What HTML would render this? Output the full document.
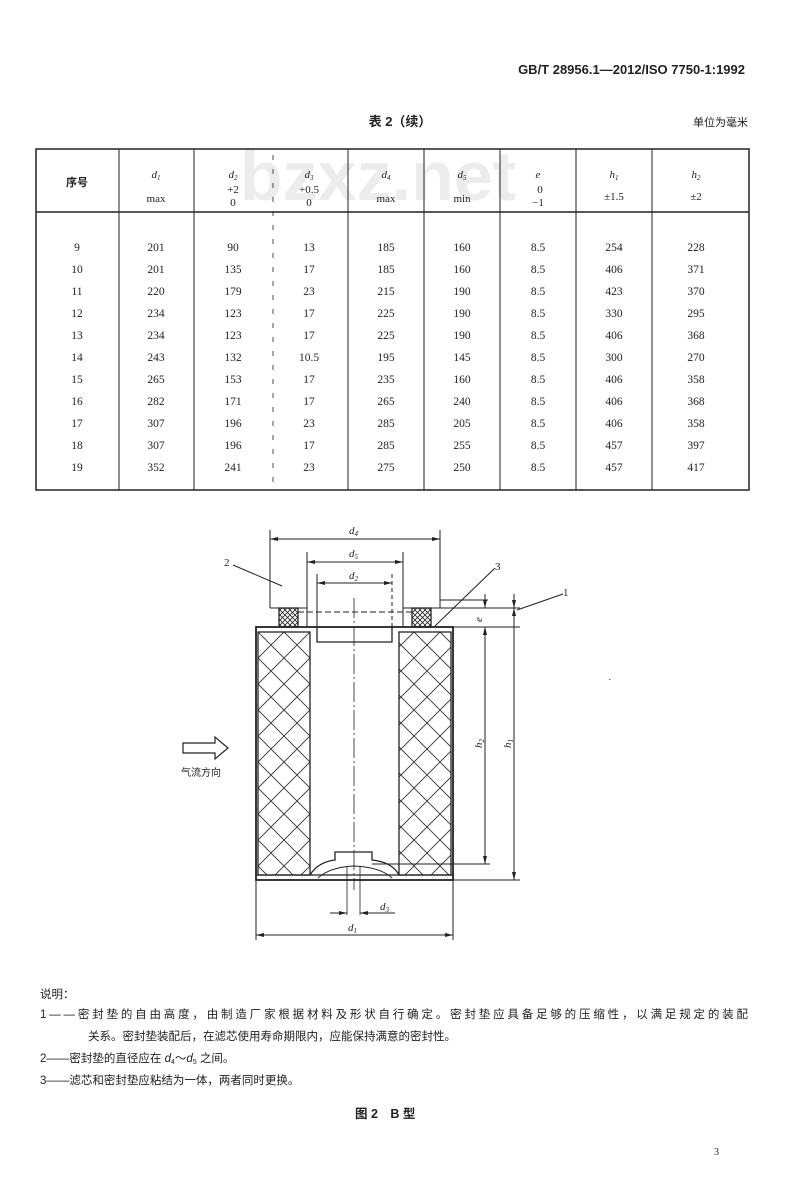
<!DOCTYPE html>
<html><head><meta charset="utf-8"><style>
body{margin:0;background:#fff}
svg{display:block}
text{font-family:"Liberation Serif","Noto Serif CJK SC",serif;fill:#222}
.c{font-family:"Liberation Sans","Noto Sans CJK SC",sans-serif}
</style></head><body>
<svg width="800" height="1184" viewBox="0 0 800 1184" xmlns="http://www.w3.org/2000/svg">
<defs>
<pattern id="h" width="26" height="26" patternUnits="userSpaceOnUse" patternTransform="translate(258,632)">
<path d="M0 0L26 26M26 0L0 26" stroke="#333" stroke-width="0.9"/>
</pattern>
<pattern id="s" width="5" height="5" patternUnits="userSpaceOnUse">
<path d="M0 0L5 5M5 0L0 5" stroke="#222" stroke-width="0.8"/>
</pattern>
<marker id="a" markerWidth="8" markerHeight="6" refX="8" refY="3" orient="auto-start-reverse" markerUnits="userSpaceOnUse"><path d="M0 1L8 3L0 5z" fill="#222"/></marker>
</defs>
<text x="745" y="74" text-anchor="end" font-size="13" font-weight="bold" class="c">GB/T 28956.1—2012/ISO 7750-1:1992</text>
<text x="400" y="126" text-anchor="middle" font-size="13" font-weight="bold" class="c">表 2（续）</text>
<text x="748" y="126" text-anchor="end" font-size="11" class="c">单位为毫米</text>
<text x="378" y="200" text-anchor="middle" font-size="70" font-weight="bold" class="c" style="fill:#ececec">bzxz.net</text>
<g stroke="#222" fill="none">
<rect x="36" y="149" width="713" height="341" stroke-width="1.5"/>
<line x1="36" y1="212" x2="749" y2="212" stroke-width="1.5"/>
<path d="M119 149V490M194 149V490M348 149V490M424 149V490M500 149V490M576 149V490M652 149V490" stroke-width="1"/>
<line x1="273" y1="155" x2="273" y2="490" stroke-dasharray="5 9" stroke-width="0.8"/>
</g>
<g font-size="11" text-anchor="middle">
<text x="77" y="186" class="c" font-weight="bold">序号</text>
<text x="156" y="178" font-style="italic">d<tspan font-size="7" dy="2">1</tspan></text><text x="156" y="202">max</text>
<text x="233" y="178" font-style="italic">d<tspan font-size="7" dy="2">2</tspan></text><text x="233" y="193">+2</text><text x="233" y="206">0</text>
<text x="309" y="178" font-style="italic">d<tspan font-size="7" dy="2">3</tspan></text><text x="309" y="193">+0.5</text><text x="309" y="206">0</text>
<text x="386" y="178" font-style="italic">d<tspan font-size="7" dy="2">4</tspan></text><text x="386" y="202">max</text>
<text x="462" y="178" font-style="italic">d<tspan font-size="7" dy="2">5</tspan></text><text x="462" y="202">min</text>
<text x="538" y="178" font-style="italic">e</text><text x="540" y="193">0</text><text x="538" y="206">−1</text>
<text x="614" y="178" font-style="italic">h<tspan font-size="7" dy="2">1</tspan></text><text x="614" y="200">±1.5</text>
<text x="696" y="178" font-style="italic">h<tspan font-size="7" dy="2">2</tspan></text><text x="696" y="200">±2</text>
</g>
<g font-size="11.5" text-anchor="middle">
<text y="251"><tspan x="77">9</tspan><tspan x="156">201</tspan><tspan x="233">90</tspan><tspan x="309">13</tspan><tspan x="386">185</tspan><tspan x="462">160</tspan><tspan x="538">8.5</tspan><tspan x="614">254</tspan><tspan x="696">228</tspan></text>
<text y="273"><tspan x="77">10</tspan><tspan x="156">201</tspan><tspan x="233">135</tspan><tspan x="309">17</tspan><tspan x="386">185</tspan><tspan x="462">160</tspan><tspan x="538">8.5</tspan><tspan x="614">406</tspan><tspan x="696">371</tspan></text>
<text y="295"><tspan x="77">11</tspan><tspan x="156">220</tspan><tspan x="233">179</tspan><tspan x="309">23</tspan><tspan x="386">215</tspan><tspan x="462">190</tspan><tspan x="538">8.5</tspan><tspan x="614">423</tspan><tspan x="696">370</tspan></text>
<text y="317"><tspan x="77">12</tspan><tspan x="156">234</tspan><tspan x="233">123</tspan><tspan x="309">17</tspan><tspan x="386">225</tspan><tspan x="462">190</tspan><tspan x="538">8.5</tspan><tspan x="614">330</tspan><tspan x="696">295</tspan></text>
<text y="339"><tspan x="77">13</tspan><tspan x="156">234</tspan><tspan x="233">123</tspan><tspan x="309">17</tspan><tspan x="386">225</tspan><tspan x="462">190</tspan><tspan x="538">8.5</tspan><tspan x="614">406</tspan><tspan x="696">368</tspan></text>
<text y="361"><tspan x="77">14</tspan><tspan x="156">243</tspan><tspan x="233">132</tspan><tspan x="309">10.5</tspan><tspan x="386">195</tspan><tspan x="462">145</tspan><tspan x="538">8.5</tspan><tspan x="614">300</tspan><tspan x="696">270</tspan></text>
<text y="383"><tspan x="77">15</tspan><tspan x="156">265</tspan><tspan x="233">153</tspan><tspan x="309">17</tspan><tspan x="386">235</tspan><tspan x="462">160</tspan><tspan x="538">8.5</tspan><tspan x="614">406</tspan><tspan x="696">358</tspan></text>
<text y="405"><tspan x="77">16</tspan><tspan x="156">282</tspan><tspan x="233">171</tspan><tspan x="309">17</tspan><tspan x="386">265</tspan><tspan x="462">240</tspan><tspan x="538">8.5</tspan><tspan x="614">406</tspan><tspan x="696">368</tspan></text>
<text y="427"><tspan x="77">17</tspan><tspan x="156">307</tspan><tspan x="233">196</tspan><tspan x="309">23</tspan><tspan x="386">285</tspan><tspan x="462">205</tspan><tspan x="538">8.5</tspan><tspan x="614">406</tspan><tspan x="696">358</tspan></text>
<text y="449"><tspan x="77">18</tspan><tspan x="156">307</tspan><tspan x="233">196</tspan><tspan x="309">17</tspan><tspan x="386">285</tspan><tspan x="462">255</tspan><tspan x="538">8.5</tspan><tspan x="614">457</tspan><tspan x="696">397</tspan></text>
<text y="471"><tspan x="77">19</tspan><tspan x="156">352</tspan><tspan x="233">241</tspan><tspan x="309">23</tspan><tspan x="386">275</tspan><tspan x="462">250</tspan><tspan x="538">8.5</tspan><tspan x="614">457</tspan><tspan x="696">417</tspan></text>
</g>
<g stroke="#222" fill="none" stroke-width="1">
<rect x="256" y="627" width="197" height="253" stroke-width="1.8"/>
<rect x="258" y="632" width="52" height="243" fill="url(#h)" stroke-width="1.3"/>
<rect x="399" y="632" width="52" height="243" fill="url(#h)" stroke-width="1.3"/>
<line x1="256" y1="875" x2="453" y2="875" stroke-width="1.3"/>
<path d="M317 627V642H392V627" stroke-width="1.3"/>
<rect x="279" y="608" width="19" height="19" fill="url(#s)" stroke-width="1.3"/>
<rect x="412" y="608" width="19" height="19" fill="url(#s)" stroke-width="1.3"/>
<path d="M270 608H307V627M403 627V608H440" />
<line x1="298" y1="612" x2="413" y2="612" stroke-dasharray="6 3"/>
<path d="M270 530V608M440 530V608M307 552V608M403 552V608M317 574V627"/>
<line x1="392" y1="574" x2="392" y2="627" stroke-dasharray="4 3"/>
<line x1="270" y1="539" x2="440" y2="539" marker-start="url(#a)" marker-end="url(#a)"/>
<line x1="307" y1="562" x2="403" y2="562" marker-start="url(#a)" marker-end="url(#a)"/>
<line x1="317" y1="583" x2="392" y2="583" marker-start="url(#a)" marker-end="url(#a)"/>
<line x1="354" y1="598" x2="354" y2="890" stroke-dasharray="20 3 2 3" stroke-width="0.8"/>
<path d="M310 875Q318 862 335 860V852H372V860Q392 862 399 875" stroke-width="1.3"/>
<path d="M318 878Q330 867 354 866Q380 867 392 878" />
<path d="M347 866V915M360 866V915" stroke-width="0.8"/>
<line x1="330" y1="913" x2="347" y2="913" marker-end="url(#a)"/>
<line x1="395" y1="913" x2="360" y2="913" marker-end="url(#a)"/>
<path d="M256 880V940M453 880V940"/>
<line x1="256" y1="935" x2="453" y2="935" marker-start="url(#a)" marker-end="url(#a)"/>
<path d="M431 608H520M453 627H520M453 880H520M372 864H490M440 600H488"/>
<line x1="485" y1="627" x2="485" y2="864" marker-start="url(#a)" marker-end="url(#a)"/>
<line x1="514" y1="608" x2="514" y2="880" marker-start="url(#a)" marker-end="url(#a)"/>
<line x1="485" y1="594" x2="485" y2="608" marker-end="url(#a)"/>
<line x1="485" y1="640" x2="485" y2="627" marker-end="url(#a)"/>
<line x1="514" y1="594" x2="514" y2="608" marker-end="url(#a)"/>
<path d="M233 565L282 586M435 626L495 568M517 610L563 594"/>
<path d="M183 743H215V737L228 748L215 759V753H183Z" stroke-width="1.2"/>
</g>
<g font-size="11" font-style="italic">
<text x="349" y="534">d<tspan font-size="7" dy="2">4</tspan></text>
<text x="349" y="557">d<tspan font-size="7" dy="2">5</tspan></text>
<text x="349" y="579">d<tspan font-size="7" dy="2">2</tspan></text>
<text x="380" y="910">d<tspan font-size="7" dy="2">3</tspan></text>
<text x="348" y="931">d<tspan font-size="7" dy="2">1</tspan></text>
<text transform="translate(482,748) rotate(-90)">h<tspan font-size="7" dy="2">2</tspan></text>
<text transform="translate(511,748) rotate(-90)">h<tspan font-size="7" dy="2">1</tspan></text>
<text transform="translate(482,622) rotate(-90)">e</text>
</g>
<g font-size="11">
<text x="224" y="566">2</text>
<text x="495" y="570">3</text>
<text x="563" y="596">1</text>
<text x="181" y="776" font-size="10" class="c">气流方向</text>
<text x="608" y="683">·</text>
</g>
<g font-size="11.5" class="c">
<text x="40" y="998" class="c">说明：</text>
<text x="40" y="1018" class="c" textLength="708">1——密封垫的自由高度，由制造厂家根据材料及形状自行确定。密封垫应具备足够的压缩性，以满足规定的装配</text>
<text x="88" y="1040" class="c">关系。密封垫装配后，在滤芯使用寿命期限内，应能保持满意的密封性。</text>
<text x="40" y="1062" class="c">2——密封垫的直径应在 <tspan font-style="italic">d</tspan><tspan font-size="7" dy="2">4</tspan><tspan dy="-2">～</tspan><tspan font-style="italic">d</tspan><tspan font-size="7" dy="2">5</tspan><tspan dy="-2"> 之间。</tspan></text>
<text x="40" y="1084" class="c">3——滤芯和密封垫应粘结为一体，两者同时更换。</text>
<text x="355" y="1118" font-size="12.5" font-weight="bold" class="c">图 2　B 型</text>
<text x="714" y="1155" font-size="10">3</text>
</g>
</svg>
</body></html>
